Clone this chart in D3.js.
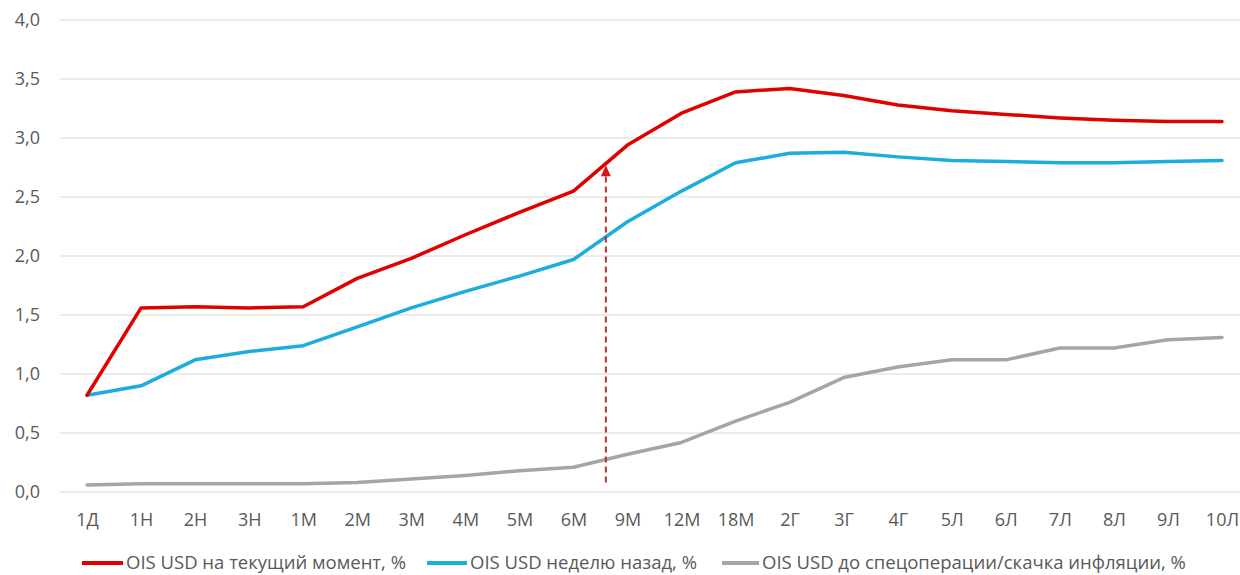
<!DOCTYPE html>
<html>
<head>
<meta charset="utf-8">
<script src="https://cdn.jsdelivr.net/npm/d3@7/dist/d3.min.js"></script>
<style>
  html, body { margin: 0; padding: 0; background: #fff; }
  svg { display: block; }
  text { font-family: "Open Sans", "Noto Sans", sans-serif; fill: #595959; }
</style>
</head>
<body>
<svg id="chart" width="1240" height="575"></svg>
<script>
// Tenors along the OIS curve
const tenors = ["1Д","1Н","2Н","3Н","1М","2М","3М","4М","5М","6М","9М","12М","18М","2Г","3Г","4Г","5Л","6Л","7Л","8Л","9Л","10Л"];

// Curve now, %
const oisNow = [0.82,1.56,1.57,1.56,1.57,1.81,1.98,2.18,2.37,2.55,2.94,3.21,3.39,3.42,3.36,3.28,3.23,3.20,3.17,3.15,3.14,3.14];
// Curve a week ago, %
const oisWeekAgo = [0.82,0.90,1.12,1.19,1.24,1.40,1.56,1.70,1.83,1.97,2.29,2.55,2.79,2.87,2.88,2.84,2.81,2.80,2.79,2.79,2.80,2.81];
// Curve before the special operation / inflation jump, %
const oisBefore = [0.06,0.07,0.07,0.07,0.07,0.08,0.11,0.14,0.18,0.21,0.32,0.42,0.60,0.76,0.97,1.06,1.12,1.12,1.22,1.22,1.29,1.31];

const yTicks = [0, 0.5, 1, 1.5, 2, 2.5, 3, 3.5, 4];

const seriesNames = [
  "OIS USD на текущий момент, %",
  "OIS USD неделю назад, %",
  "OIS USD до спецоперации/скачка инфляции, %"
];
const seriesColors = ["#e00000", "#1badde", "#a5a5a5"];

// Arrow marking the shift between 6М and 9М: position as a fraction of the step, and its value span
const arrowAt = { after: "6М", frac: 0.6, from: 0.08, to: 2.77 };

const svg = d3.select("#chart");

const x = d3.scalePoint().domain(tenors).range([60, 1249]).padding(0.5);
const y = d3.scaleLinear().domain([0, 4]).range([492, 20]);

// Horizontal gridlines
svg.append("g")
  .selectAll("line")
  .data(yTicks)
  .join("line")
  .attr("x1", 60).attr("x2", 1240)
  .attr("y1", d => y(d)).attr("y2", d => y(d))
  .attr("stroke", "#d9d9d9").attr("stroke-width", 1);

// Y axis labels
const fmt = d => d3.format(".1f")(d).replace(".", ",");
const yAxis = svg.append("g")
  .attr("transform", "translate(40,0)")
  .call(d3.axisLeft(y).tickValues(yTicks).tickFormat(fmt).tickSize(0).tickPadding(0));
yAxis.select(".domain").remove();
yAxis.selectAll("text")
  .style("font-size", "18px")
  .attr("fill", "#595959");

// X axis labels
const xAxis = svg.append("g")
  .attr("transform", "translate(0,510)")
  .call(d3.axisBottom(x).tickSize(0).tickPadding(3));
xAxis.select(".domain").remove();
xAxis.selectAll("text")
  .style("font-size", "18px")
  .attr("fill", "#595959");

// Series lines
const line = d3.line().x((d, i) => x(tenors[i])).y(d => y(d));
const allSeries = [oisBefore, oisWeekAgo, oisNow];
const allColors = [seriesColors[2], seriesColors[1], seriesColors[0]];
svg.append("g")
  .selectAll("path")
  .data(allSeries)
  .join("path")
  .attr("d", d => line(d))
  .attr("fill", "none")
  .attr("stroke", (d, i) => allColors[i])
  .attr("stroke-width", 3.5)
  .attr("stroke-linejoin", "round")
  .attr("stroke-linecap", "round");

// Dashed arrow
const i0 = tenors.indexOf(arrowAt.after);
const ax = x(tenors[i0]) + arrowAt.frac * (x(tenors[i0 + 1]) - x(tenors[i0]));
const yTip = y(arrowAt.to);
svg.append("line")
  .attr("x1", ax).attr("x2", ax)
  .attr("y1", y(arrowAt.from)).attr("y2", yTip + 9)
  .attr("stroke", "#b2343a").attr("stroke-width", 2)
  .attr("stroke-dasharray", "6,4");
svg.append("path")
  .attr("d", `M${ax},${yTip} L${ax - 5},${yTip + 11} L${ax + 5},${yTip + 11} Z`)
  .attr("fill", "#d8141c");

// Legend
const legendItems = [
  { x: 82, lineW: 41 },
  { x: 427, lineW: 40 },
  { x: 722, lineW: 37 }
];
const legend = svg.append("g").attr("transform", "translate(0,563)");
legendItems.forEach((it, i) => {
  legend.append("line")
    .attr("x1", it.x).attr("x2", it.x + it.lineW)
    .attr("y1", 0).attr("y2", 0)
    .attr("stroke", seriesColors[i]).attr("stroke-width", 4);
  legend.append("text")
    .attr("x", it.x + it.lineW + 3).attr("y", 0)
    .attr("dy", "0.35em")
    .style("font-size", "18.5px")
    .text(seriesNames[i]);
});
</script>
</body>
</html>
